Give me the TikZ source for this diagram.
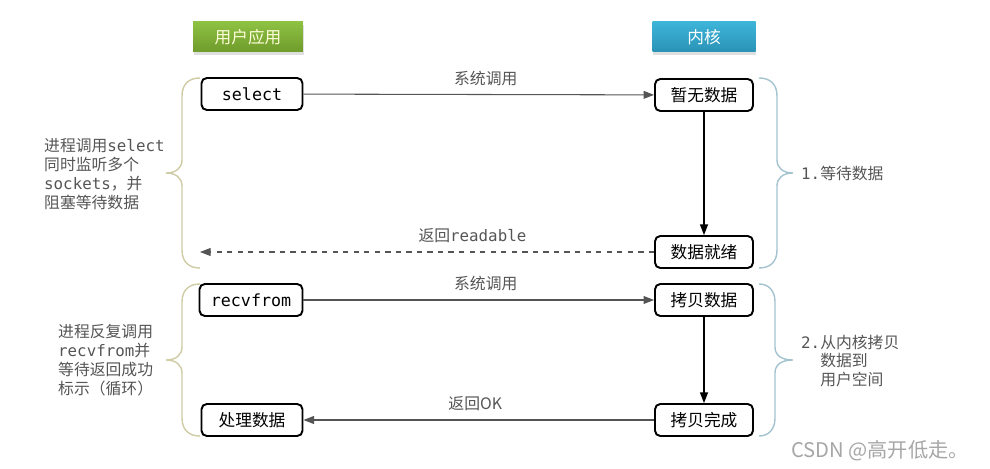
\documentclass[tikz,border=0pt]{standalone}
\usepackage{fontspec}
\setmainfont{Noto Sans CJK SC}
\setmonofont{DejaVu Sans Mono}
\usetikzlibrary{arrows.meta,shadows}
\definecolor{appgreen}{HTML}{8DC142}
\definecolor{appgreendark}{HTML}{6F9B2C}
\definecolor{kernblue}{HTML}{3DB4D8}
\definecolor{kernbluedark}{HTML}{2A93B6}
\definecolor{labelgray}{HTML}{555555}
\definecolor{leftbrace}{HTML}{CFCBA4}
\definecolor{rightbrace}{HTML}{A3C3CF}
\begin{document}
\begin{tikzpicture}[x=0.02cm, y=-0.02cm,
    font=\fontsize{9}{10.8}\selectfont,
    header/.style={minimum height=0.6cm, inner sep=0pt, font=\fontsize{9.5}{11}\selectfont, drop shadow={opacity=0.25, shadow xshift=0.5pt, shadow yshift=-1.5pt}},
    box/.style={draw=black, line width=1.1pt, rounded corners=3pt, fill=white, minimum height=0.64cm, inner sep=0pt, font=\fontsize{9.5}{11}\selectfont},
    call/.style={draw=labelgray, line width=0.6pt, -{Triangle[length=6pt,width=4.5pt]}},
    label/.style={text=labelgray, above=1.5pt},
    side/.style={text=labelgray, align=left, anchor=west}]
    \useasboundingbox (0,0) rectangle (990,469);

    \node[header, top color=appgreen, bottom color=appgreendark, minimum width=2.2cm, text=yellow!15] (app) at (248,37) {用户应用};
    \node[header, top color=kernblue, bottom color=kernbluedark, minimum width=2.06cm, text=white] (kernel) at (704,37) {内核};

    \node[box, minimum width=2.02cm] (select) at (252,94) {\texttt{select}};
    \node[box, minimum width=1.96cm] (nodata) at (704,95) {暂无数据};
    \node[box, minimum width=1.96cm] (ready) at (704,252) {数据就绪};
    \node[box, minimum width=2.06cm] (recv) at (251,300) {\texttt{recvfrom}};
    \node[box, minimum width=1.96cm] (copy) at (704,300) {拷贝数据};
    \node[box, minimum width=2.02cm] (handle) at (252,420) {处理数据};
    \node[box, minimum width=1.96cm] (done) at (704,420) {拷贝完成};
    \coordinate (readyend) at (200,252);

    \draw[call] (select) -- (nodata) node[label, pos=0.52] {系统调用};
    \draw[call, draw=black] (nodata) -- (ready);
    \draw[call, dashed] (ready) -- (readyend) node[label, pos=0.4] {返回\texttt{readable}};
    \draw[call] (recv) -- (copy) node[label, pos=0.52] {系统调用};
    \draw[call, draw=black] (copy) -- (done);
    \draw[call] (done) -- (handle) node[label, pos=0.51] {返回OK};

    \draw[leftbrace, line width=0.8pt] (200,78) .. controls (189,78) and (182,84) .. (182,96) -- (182,160)
        .. controls (182,168) and (176,173) .. (166,173) .. controls (176,173) and (182,178) .. (182,186)
        -- (182,250) .. controls (182,262) and (189,268) .. (200,268);
    \draw[leftbrace, line width=0.8pt] (200,284) .. controls (189,284) and (182,290) .. (182,302) -- (182,347)
        .. controls (182,355) and (176,360) .. (166,360) .. controls (176,360) and (182,365) .. (182,373)
        -- (182,418) .. controls (182,430) and (189,436) .. (200,436);
    \draw[rightbrace, line width=0.8pt] (759,78) .. controls (770,78) and (777,84) .. (777,96) -- (777,160)
        .. controls (777,168) and (783,173) .. (793,173) .. controls (783,173) and (777,178) .. (777,186)
        -- (777,250) .. controls (777,262) and (770,268) .. (759,268);
    \draw[rightbrace, line width=0.8pt] (759,284) .. controls (768,284) and (775,290) .. (775,302) -- (775,347)
        .. controls (775,355) and (781,360) .. (793,360) .. controls (781,360) and (775,365) .. (775,373)
        -- (775,418) .. controls (775,430) and (768,436) .. (759,436);

    \node[side] (waitnote) at (38,174) {进程调用\texttt{select}\\同时监听多个\\\texttt{sockets}，并\\阻塞等待数据};
    \node[side] (loopnote) at (52,360) {进程反复调用\\\texttt{recvfrom}并\\等待返回成功\\标示（循环）};
    \node[side] (step1) at (795,173) {\texttt{1.}等待数据};
    \node[side] (step2) at (795,361) {\texttt{2.}从内核拷贝\\\phantom{\texttt{2.}}数据到\\\phantom{\texttt{2.}}用户空间};
    \node[anchor=west, text=black!35, font=\fontsize{11.5}{13}\selectfont] (mark) at (785,451) {CSDN @高开低走。};
\end{tikzpicture}
\end{document}
